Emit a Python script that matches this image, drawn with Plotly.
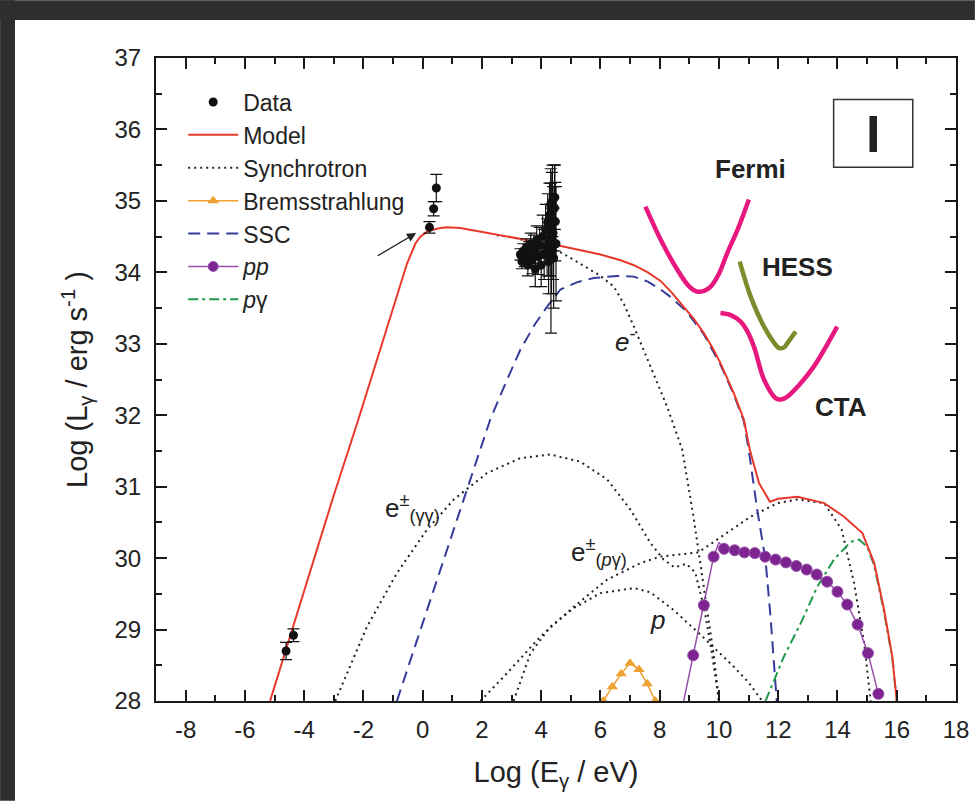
import plotly.graph_objects as go

# ---------------- data ----------------
model_x = [-5.15, -4.0, -3.0, -2.17, -1.43, -0.9, -0.53, -0.25, -0.08, 0.15, 0.37, 0.6, 0.82, 1.27, 2.28,
           3.41, 4.43, 5.55, 6.0, 6.68, 7.13, 7.6, 8.03, 8.4, 8.81, 9.15, 9.49, 9.8, 10.05, 10.5, 10.84,
           11.04, 11.35, 11.72, 12.0, 12.65, 13.55, 14.22, 14.84, 15.24, 15.57, 15.85, 16.0]
model_y = [28.0, 29.55, 30.88, 31.94, 32.92, 33.62, 34.12, 34.40, 34.50, 34.57, 34.60, 34.62, 34.63, 34.62, 34.54,
           34.46, 34.39, 34.29, 34.25, 34.17, 34.10, 34.00, 33.88, 33.72, 33.52, 33.35, 33.15, 32.93, 32.73,
           32.31, 31.94, 31.52, 31.05, 30.79, 30.83, 30.86, 30.77, 30.58, 30.35, 29.93, 29.28, 28.62, 28.0]

ssc_x = [-0.87, 0.5, 1.5, 2.28, 2.8, 3.30, 3.8, 4.2, 4.65, 5.2, 5.77, 6.56, 7.13, 7.6, 8.03, 8.35, 8.59, 8.81,
         9.0, 9.49, 10.05, 10.5, 10.84, 11.01, 11.29, 11.57, 11.74, 11.95]
ssc_y = [28.0, 29.72, 30.97, 31.94, 32.45, 32.92, 33.28, 33.52, 33.76, 33.86, 33.92, 33.95, 33.94, 33.87, 33.76,
         33.66, 33.57, 33.49, 33.40, 33.13, 32.71, 32.29, 31.92, 31.50, 30.68, 29.98, 29.18, 28.0]

syn_e_x = [2.5, 3.0, 4.0, 4.43, 5.0, 5.5, 6.0, 6.45, 6.8, 7.13, 7.69, 8.25, 8.76, 9.14, 9.55, 9.83, 10.0]
syn_e_y = [34.52, 34.49, 34.40, 34.33, 34.20, 34.08, 33.95, 33.80, 33.55, 33.24, 32.68, 32.12, 31.52, 30.58,
           29.42, 28.62, 28.0]

syn_gg_x = [-2.95, -1.88, -0.87, 0.15, 1.05, 2.17, 3.30, 4.31, 5.32, 6.23, 7.01, 7.69, 8.13, 8.5, 8.9, 9.2,
            9.5, 9.75, 10.0]
syn_gg_y = [28.0, 29.04, 29.79, 30.40, 30.82, 31.19, 31.40, 31.45, 31.35, 31.10, 30.68, 30.21, 29.98, 29.87,
            29.92, 29.80, 29.30, 28.70, 28.0]

syn_pg_x = [1.95, 2.85, 3.97, 5.10, 6.23, 7.35, 8.0, 8.70, 9.3, 9.94, 11.07, 11.97, 12.65, 13.55, 14.14,
            14.56, 14.9, 15.12]
syn_pg_y = [28.0, 28.39, 28.90, 29.32, 29.70, 29.93, 30.02, 30.05, 30.08, 30.26, 30.58, 30.77, 30.82, 30.77,
            30.40, 29.65, 28.81, 28.0]

syn_p_x = [3.07, 3.64, 4.31, 5.10, 6.0, 7.13, 7.69, 8.48, 9.5, 10.5, 11.0, 11.46]
syn_p_y = [28.0, 28.67, 29.04, 29.30, 29.51, 29.58, 29.52, 29.27, 28.88, 28.48, 28.26, 28.0]

brems_x = [6.1, 6.4, 6.7, 7.0, 7.3, 7.58, 7.85]
brems_y = [28.0, 28.2, 28.38, 28.53, 28.44, 28.24, 28.0]

pp_x = [8.81, 9.13, 9.49, 9.82, 10.0, 10.17, 10.53, 10.86, 11.21, 11.56, 11.91, 12.26, 12.61, 12.96, 13.30,
        13.65, 14.0, 14.33, 14.68, 15.03, 15.38]
pp_y = [28.0, 28.64, 29.34, 30.02, 30.22, 30.13, 30.11, 30.08, 30.07, 30.02, 29.98, 29.94, 29.89, 29.84, 29.77,
        29.67, 29.53, 29.35, 29.07, 28.67, 28.10]
pp_marker = [0, 1, 1, 1, 0, 1, 1, 1, 1, 1, 1, 1, 1, 1, 1, 1, 1, 1, 1, 1, 1]

pgam_x = [11.57, 12.19, 12.76, 13.32, 13.88, 14.45, 14.73, 15.0, 15.24, 15.57, 15.85, 16.0]
pgam_y = [28.0, 28.62, 29.09, 29.6, 29.98, 30.23, 30.26, 30.16, 29.90, 29.25, 28.6, 28.0]

fermi_x = [7.52, 8.03, 8.59, 9.0, 9.26, 9.5, 9.72, 10.0, 10.28, 10.65, 11.01]
fermi_y = [34.92, 34.46, 34.04, 33.80, 33.73, 33.74, 33.80, 33.98, 34.27, 34.62, 35.02]
hess_x = [10.70, 11.07, 11.52, 11.85, 12.03, 12.2, 12.31, 12.59]
hess_y = [34.15, 33.66, 33.24, 33.02, 32.94, 32.95, 33.01, 33.17]
cta_x = [10.05, 10.4, 10.73, 10.95, 11.18, 11.52, 11.91, 12.1, 12.31, 12.7, 13.2, 13.99]
cta_y = [33.43, 33.40, 33.31, 33.18, 32.96, 32.50, 32.24, 32.22, 32.26, 32.42, 32.68, 33.24]

data_x = [-4.61, -4.36, 0.23, 0.37, 0.46,
          3.30, 3.35, 3.40, 3.45, 3.50, 3.55, 3.60, 3.65, 3.70, 3.75, 3.80, 3.85, 3.90, 3.95, 4.00,
          4.05, 4.10, 4.15, 4.20, 4.22, 4.25, 4.28, 4.30, 4.32, 4.33, 4.35, 4.36, 4.38, 4.40, 4.42,
          4.45, 4.46, 4.48, 4.50]
data_y = [28.70, 28.92, 34.63, 34.89, 35.18,
          34.25, 34.15, 34.30, 34.20, 34.35, 34.10, 34.28, 34.40, 34.18, 34.32, 34.05, 34.45, 34.22, 34.38, 34.10,
          34.50, 34.25, 34.60, 34.35, 34.70, 34.15, 34.80, 34.45, 34.95, 34.20, 34.30, 34.85, 35.00, 34.55, 34.20,
          34.90, 35.05, 34.71, 34.40]
data_err = [0.12, 0.09, 0.08, 0.10, 0.19,
            0.08, 0.10, 0.10, 0.12, 0.12, 0.15, 0.15, 0.15, 0.20, 0.20, 0.25, 0.20, 0.25, 0.25, 0.30,
            0.30, 0.35, 0.35, 0.40, 0.40, 0.45, 0.45, 0.50, 0.50, 1.05, 0.60, 0.55, 0.50, 0.65, 0.70,
            0.60, 0.45, 0.55, 0.80]
data_xerr = [0, 0, 0, 0, 0,
             0.15, 0.12, 0.15, 0.12, 0.15, 0.12, 0.15, 0.12, 0.12, 0.10, 0.12, 0.10, 0.10, 0.10, 0.10,
             0.08, 0.08, 0.08, 0.08, 0.06, 0.06, 0.06, 0.06, 0.05, 0.05, 0.05, 0.05, 0.05, 0.05, 0.05,
             0.05, 0.05, 0.05, 0.05]

x_ticks = [-8, -6, -4, -2, 0, 2, 4, 6, 8, 10, 12, 14, 16, 18]
x_ticktext = ["-8", "-6", "-4", "-2", "0", "2", "4", "6", "8", "10", "12", "14", "16", "18"]
y_ticks = [28, 29, 30, 31, 32, 33, 34, 35, 36, 37]

# ---------------- styles ----------------
FONT = "Arial, Liberation Sans, Helvetica, sans-serif"
RED = "#e8382c"
BLUE = "#353c9a"
ORANGE = "#f0a030"
PURPLE = "#7e2490"
GREEN = "#1f9a4a"
PINK = "#e8197e"
OLIVE = "#7e8a2c"
DARK = "#2e2e2e"
DOT = "2px,4px"

fig = go.Figure()

syn_style = dict(color="#222222", width=2, dash=DOT)
fig.add_trace(go.Scatter(x=syn_gg_x, y=syn_gg_y, mode="lines", line=syn_style, showlegend=False,
                         legendgroup="syn", hoverinfo="skip"))
fig.add_trace(go.Scatter(x=syn_pg_x, y=syn_pg_y, mode="lines", line=syn_style, showlegend=False,
                         legendgroup="syn", hoverinfo="skip"))
fig.add_trace(go.Scatter(x=syn_p_x, y=syn_p_y, mode="lines", line=syn_style, showlegend=False,
                         legendgroup="syn", hoverinfo="skip"))
fig.add_trace(go.Scatter(x=syn_e_x, y=syn_e_y, mode="lines", line=syn_style, name="Synchrotron",
                         legendgroup="syn", legendrank=3))

fig.add_trace(go.Scatter(x=brems_x, y=brems_y, mode="lines+markers", name="Bremsstrahlung",
                         line=dict(color=ORANGE, width=1.5),
                         marker=dict(symbol="triangle-up", size=10, color=ORANGE), legendrank=4))
fig.add_trace(go.Scatter(x=ssc_x, y=ssc_y, mode="lines", name="SSC",
                         line=dict(color=BLUE, width=2, dash="12px,7px"), legendrank=5))
fig.add_trace(go.Scatter(x=pgam_x, y=pgam_y, mode="lines", name="<i>p</i>γ",
                         line=dict(color=GREEN, width=2, dash="10px,4px,3px,4px"), legendrank=7))
fig.add_trace(go.Scatter(x=pp_x, y=pp_y, mode="lines+markers", name="<i>pp</i>",
                         line=dict(color="#9450ab", width=1.5),
                         marker=dict(symbol="circle", size=[11 * m for m in pp_marker], color=PURPLE,
                                     opacity=1),
                         legendrank=6))

for cx, cy, col in [(fermi_x, fermi_y, PINK), (hess_x, hess_y, OLIVE), (cta_x, cta_y, PINK)]:
    fig.add_trace(go.Scatter(x=cx, y=cy, mode="lines", line=dict(color=col, width=4.5, shape="spline"),
                             showlegend=False, hoverinfo="skip"))

fig.add_trace(go.Scatter(x=model_x, y=model_y, mode="lines", name="Model",
                         line=dict(color=RED, width=2), legendrank=2))
fig.add_trace(go.Scatter(x=data_x, y=data_y, mode="markers", name="Data",
                         marker=dict(color="#111111", size=9),
                         error_y=dict(type="data", array=data_err, color="#111111", thickness=1.2, width=6),
                         error_x=dict(type="data", array=data_xerr, color="#111111", thickness=1.0, width=0),
                         legendrank=1))

# ---------------- annotations ----------------
ann = []
def label(x, y, text, size, **kw):
    d = dict(x=x, y=y, xref="x", yref="y", text=text, showarrow=False,
             font=dict(family=FONT, size=size, color="#222222"))
    d.update(kw)
    ann.append(d)

label(11.07, 35.44, "<b>Fermi</b>", 26)
label(12.64, 34.08, "<b>HESS</b>", 26)
label(14.11, 32.12, "<b>CTA</b>", 26)
label(15.21, 35.94, "<b>I</b>", 52)
label(6.85, 33.05, "<i>e</i><sup>-</sup>", 26)
label(-0.35, 30.70, "e<sup>±</sup><sub>(γγ)</sub>", 26)
label(5.95, 30.08, "e<sup>±</sup><sub>(<i>p</i>γ)</sub>", 26)
label(7.93, 29.14, "<i>p</i>", 26)

ann.append(dict(x=-0.22, y=34.55, ax=-1.57, ay=34.22, xref="x", yref="y", axref="x", ayref="y",
                text="", showarrow=True, arrowhead=2, arrowsize=1.3, arrowwidth=1.4, arrowcolor="#222222"))

# plot area: x 156..956 px (800 px), y 58..701 px (643 px).
# Dark frame strips (top 0..20 px, left 0..15 px), kept inside the 975x801 figure.
shapes = [
    dict(type="rect", xref="paper", yref="paper", x0=-0.1949, x1=1.0236, y0=1.0591, y1=1.0900,
         fillcolor=DARK, line=dict(width=0), layer="below"),
    dict(type="rect", xref="paper", yref="paper", x0=-0.1949, x1=-0.17625, y0=-0.1553, y1=1.0900,
         fillcolor=DARK, line=dict(width=0), layer="below"),
    dict(type="rect", xref="x", yref="y", x0=13.87, x1=16.54, y0=35.47, y1=36.42,
         line=dict(color="#333333", width=1.5)),
]

axis_common = dict(showline=True, linecolor="#1a1a1a", linewidth=2, mirror="allticks",
                   ticks="inside", tickcolor="#1a1a1a", tickwidth=1.5, showgrid=False, zeroline=False,
                   automargin=False, tickfont=dict(family=FONT, size=24, color="#222222"))

fig.update_layout(
    width=975, height=801,
    margin=dict(l=156, r=19, t=58, b=100),
    paper_bgcolor="white", plot_bgcolor="white",
    xaxis=dict(range=[-9, 18], tickvals=x_ticks, ticktext=x_ticktext, ticklen=11,
               minor=dict(ticks="inside", dtick=1, ticklen=6, tickcolor="#1a1a1a", tickwidth=1.5),
               title=dict(text="Log (E<sub>γ</sub> / eV)", font=dict(family=FONT, size=29, color="#222222"),
                          standoff=20),
               ticklabelstandoff=6, **axis_common),
    yaxis=dict(range=[28, 37], tickvals=y_ticks, ticklen=11,
               minor=dict(ticks="inside", dtick=0.5, ticklen=6, tickcolor="#1a1a1a", tickwidth=1.5),
               title=dict(text="Log (L<sub>γ</sub> / erg s<sup>-1</sup> )",
                          font=dict(family=FONT, size=29, color="#222222"), standoff=18),
               ticklabelstandoff=8, **axis_common),
    legend=dict(x=0.034, y=0.965, xanchor="left", yanchor="top", bgcolor="rgba(0,0,0,0)",
                font=dict(family=FONT, size=23, color="#222222"), itemwidth=50, tracegroupgap=0),
    annotations=ann,
    shapes=shapes,
    showlegend=True,
)

# the page's default 8px body margin makes the 975x801 figure overflow the window -> remove it
page_fix = ("document.documentElement.style.background='white';document.body.style.background='white';"
            "document.documentElement.style.margin='0';document.body.style.margin='0';"
            "document.documentElement.style.overflow='hidden';document.body.style.overflow='hidden';")
fig.write_html("out.html", post_script=page_fix)
